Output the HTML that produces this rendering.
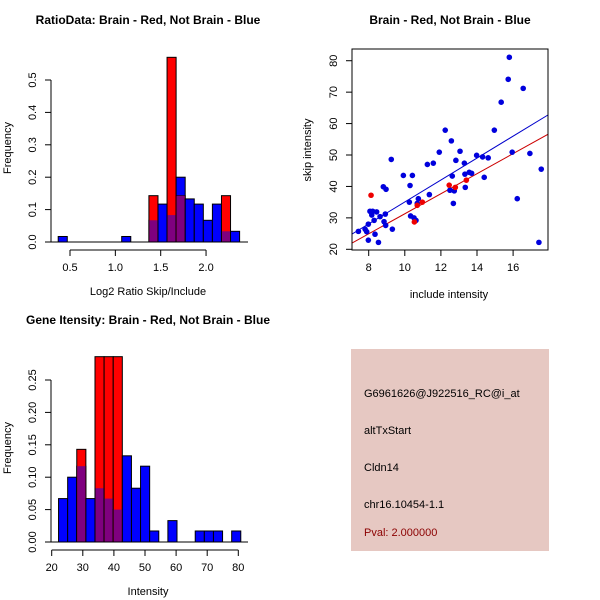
<!DOCTYPE html>
<html><head><meta charset="utf-8"><style>
body{margin:0;background:#fff}
svg{display:block;font-family:"Liberation Sans",sans-serif}
</style></head><body>
<svg id="c" width="600" height="600" viewBox="0 0 600 600">
<rect width="600" height="600" fill="#fff"/>
<g>
<rect x="351" y="349" width="198" height="202" fill="#e6c8c2"/>
<text x="364" y="397" font-size="11" fill="#000">G6961626@J922516_RC@i_at</text>
<text x="364" y="434" font-size="11" fill="#000">altTxStart</text>
<text x="364" y="471" font-size="11" fill="#000">Cldn14</text>
<text x="364" y="508" font-size="11" fill="#000">chr16.10454-1.1</text>
<text x="364" y="536" font-size="11" fill="#8b0000">Pval: 2.000000</text>
</g>
</svg>
<script>
// ---- Ratio histogram data ----
const ratioBinStart = 0.37;
const ratioBinWidth = 0.1;
const ratioBlue = [0.017,0,0,0,0,0,0,0.017,0,0,0.067,0.117,0.083,0.2,0.133,0.117,0.067,0.117,0.033,0.033];
const ratioRed  = [0,0,0,0,0,0,0,0,0,0,0.143,0,0.57,0.143,0,0,0,0,0.143,0];
const ratioXTicks = [0.5,1.0,1.5,2.0];
const ratioYTicks = [0,0.1,0.2,0.3,0.4,0.5];
// ---- Intensity histogram data ----
const intBinStart = 22.2;
const intBinWidth = 2.93;
const intBlue = [0.067,0.1,0.117,0.067,0.083,0.067,0.05,0.133,0.083,0.117,0.017,0,0.033,0,0,0.017,0.017,0.017,0,0.017];
const intRed  = [0,0,0.143,0,0.286,0.286,0.286,0,0,0,0,0,0,0,0,0,0,0,0,0];
const intXTicks = [20,30,40,50,60,70,80];
const intYTicks = [0,0.05,0.10,0.15,0.20,0.25];
// ---- Scatter data ----
const blueX = [7.43,7.80,7.89,7.98,7.98,8.07,8.17,8.22,8.30,8.35,8.44,8.54,8.63,8.81,8.85,8.94,8.96,8.92,9.25,9.31,9.92,10.25,10.29,10.32,10.42,10.51,10.62,10.69,10.75,11.25,11.36,11.58,11.91,12.24,12.50,12.58,12.63,12.69,12.74,12.83,13.06,13.30,13.33,13.35,13.57,13.70,13.98,14.31,14.40,14.62,14.96,15.34,15.73,15.79,15.95,16.23,16.56,16.93,17.43,17.56];
const blueY = [25.7,26.4,25.6,22.9,28.0,32.1,30.9,32.1,29.2,24.8,31.9,22.2,30.4,39.9,28.8,27.6,39.1,31.2,48.6,26.4,43.5,35.0,40.3,30.6,43.5,30.0,29.2,34.6,36.1,47.0,37.4,47.4,50.9,57.9,38.8,54.5,43.3,34.6,38.6,48.3,51.2,47.4,43.9,39.7,44.5,44.2,49.9,49.4,42.9,49.1,57.9,66.8,74.1,81.1,50.9,36.1,71.2,50.5,22.2,45.5];
const redX = [8.13,10.53,10.69,10.97,12.46,12.80,13.41];
const redY = [37.2,28.7,34.0,35.0,40.4,39.7,42.0];
const blueFit = [0.16,3.49];
const redFit = [-0.6,3.19];
const scXTicks = [8,10,12,14,16];
const scYTicks = [20,30,40,50,60,70,80];

const NS="http://www.w3.org/2000/svg";
const svg=document.getElementById('c');
function mk(tag,attrs,parent){const e=document.createElementNS(NS,tag);for(const k in attrs)e.setAttribute(k,attrs[k]);(parent||svg).appendChild(e);return e;}
function txt(x,y,s,size,opts,parent){const t=mk('text',Object.assign({x:x,y:y,'font-size':size,'text-anchor':'middle',fill:'#000'},opts||{}),parent);t.textContent=s;return t;}

function histogram(cfg){
  const g=mk('g',{});
  
  
  const sx=v=>cfg.x0px+(v-cfg.x0)*cfg.xs;
  const sy=v=>cfg.y0px-v*cfg.ys;
  for(let i=0;i<cfg.blue.length;i++){
    const a=cfg.start+i*cfg.width,b=a+cfg.width;
    const bv=cfg.blue[i],rv=cfg.red[i];
    if(bv>0){const r=mk('rect',{x:sx(a),y:sy(bv),width:sx(b)-sx(a),height:sy(0)-sy(bv),fill:'#0000ff',stroke:'#000','stroke-width':1},g);
      
      }
    if(rv>0){const r=mk('rect',{x:sx(a),y:sy(rv),width:sx(b)-sx(a),height:sy(0)-sy(rv),fill:'#ff0000',stroke:'#000','stroke-width':1},g);
      
      }
    const m=Math.min(bv,rv);
    if(m>0){const r=mk('rect',{x:sx(a)+0.5,y:sy(m),width:sx(b)-sx(a)-1,height:sy(0)-sy(m),fill:'#7f007f'},g);
      
      }
  }
  mk('line',{x1:51,x2:248,y1:cfg.y0px,y2:cfg.y0px,stroke:'#000'},g);
  const yt=cfg.yTicks;
  mk('line',{x1:51,x2:51,y1:sy(yt[0]),y2:sy(yt[yt.length-1]),stroke:'#000'},g);
  yt.forEach(v=>{mk('line',{x1:45,x2:51,y1:sy(v),y2:sy(v),stroke:'#000'},g);
    txt(36,sy(v),v.toFixed(cfg.yDec),11,{transform:`rotate(-90 36 ${sy(v)})`},g);});
  const xt=cfg.xTicks, ay=cfg.y0px+8;
  mk('line',{x1:sx(xt[0]),x2:sx(xt[xt.length-1]),y1:ay,y2:ay,stroke:'#000'},g);
  xt.forEach(v=>{mk('line',{x1:sx(v),x2:sx(v),y1:ay,y2:ay+6,stroke:'#000'},g);
    txt(sx(v),ay+21,v.toFixed(cfg.xDec),11,{},g);});
  txt(148,cfg.y0px-218,cfg.title,12,{'font-weight':'bold'},g);
  txt(148,cfg.y0px+53,cfg.xlab,11,{},g);
  txt(11,cfg.y0px-94,'Frequency',11,{transform:`rotate(-90 11 ${cfg.y0px-94})`},g);
}
histogram({name:'ratio-histogram',start:ratioBinStart,width:ratioBinWidth,blue:ratioBlue,red:ratioRed,
  x0:0.5,x0px:70,xs:90.7,y0px:242,ys:324,xTicks:ratioXTicks,yTicks:ratioYTicks,xDec:1,yDec:1,
  title:'RatioData: Brain - Red, Not Brain - Blue',xlab:'Log2 Ratio Skip/Include'});
histogram({name:'intensity-histogram',start:intBinStart,width:intBinWidth,blue:intBlue,red:intRed,
  x0:20,x0px:51.7,xs:3.11,y0px:542,ys:648,xTicks:intXTicks,yTicks:intYTicks,xDec:0,yDec:2,
  title:'Gene Itensity: Brain - Red, Not Brain - Blue',xlab:'Intensity'});

(function(){
  const g=mk('g',{});
  
  
  const L=352,R=548,T=49,B=250;
  const sx=v=>368.7+(v-8)*18.05;
  const sy=v=>249.3-(v-20)*3.143;
  const cp=mk('clipPath',{id:'sc'},g);mk('rect',{x:L,y:T,width:R-L,height:B-T},cp);
  const xmin=7.06,xmax=17.94;
  [[blueFit,'#0000cc'],[redFit,'#cc0000']].forEach(([f,c])=>{
    const l=mk('line',{x1:sx(xmin),y1:sy(f[0]+f[1]*xmin),x2:sx(xmax),y2:sy(f[0]+f[1]*xmax),stroke:c,'stroke-width':1,'clip-path':'url(#sc)'},g);
    
    
  });
  blueX.forEach((x,i)=>{const c=mk('circle',{cx:sx(x),cy:sy(blueY[i]),r:2.8,fill:'#0000dd'},g);
    
    });
  redX.forEach((x,i)=>{const c=mk('circle',{cx:sx(x),cy:sy(redY[i]),r:2.8,fill:'#ee0000'},g);
    
    });
  mk('rect',{x:L,y:T,width:R-L,height:B-T,fill:'none',stroke:'#000'},g);
  scXTicks.forEach(v=>{mk('line',{x1:sx(v),x2:sx(v),y1:B,y2:B+6,stroke:'#000'},g);txt(sx(v),B+21,String(v),11,{},g);});
  scYTicks.forEach(v=>{mk('line',{x1:L-6,x2:L,y1:sy(v),y2:sy(v),stroke:'#000'},g);
    txt(337,sy(v),String(v),11,{transform:`rotate(-90 337 ${sy(v)})`},g);});
  txt(450,24,'Brain - Red, Not Brain - Blue',12,{'font-weight':'bold'},g);
  txt(449,298,'include intensity',11,{},g);
  txt(311,150,'skip intensity',11,{transform:'rotate(-90 311 150)'},g);
})();
</script>
</body></html>
